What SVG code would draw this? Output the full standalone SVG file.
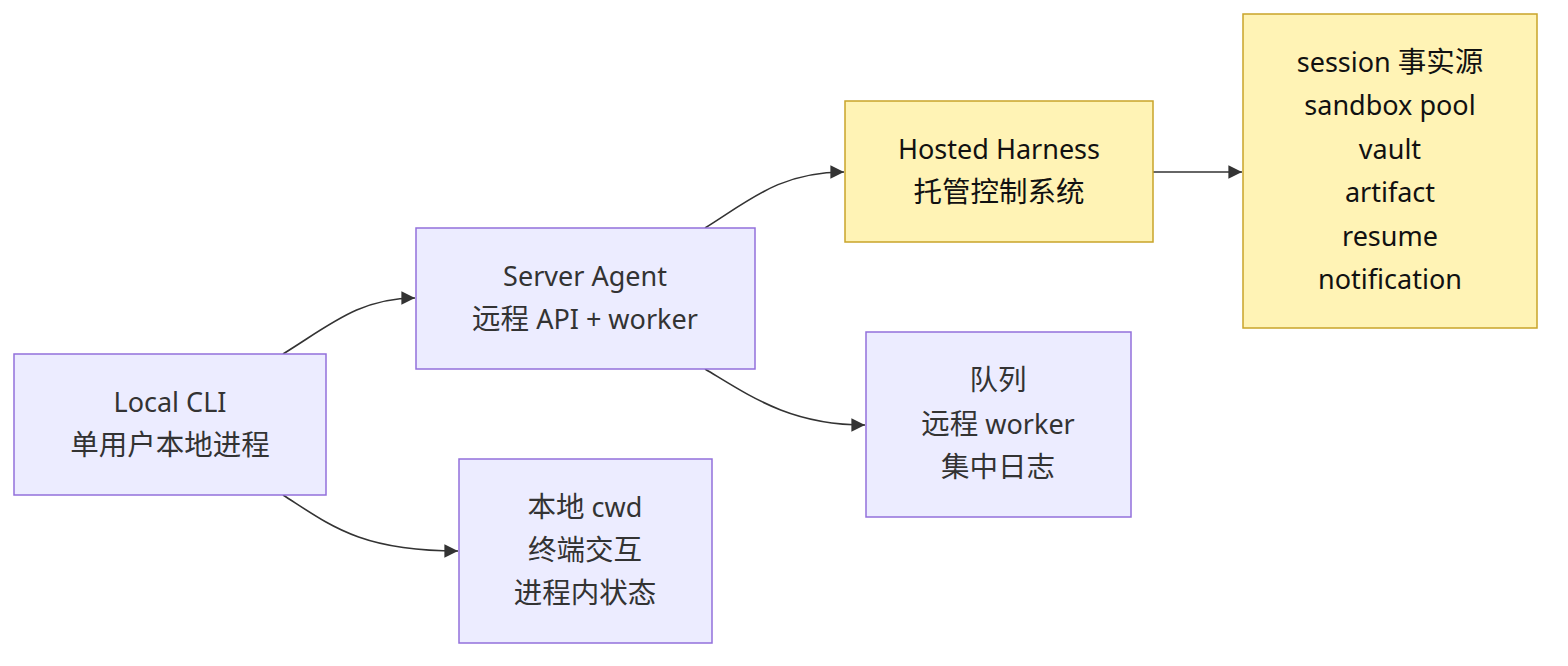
<svg xmlns="http://www.w3.org/2000/svg" width="1568" height="666" viewBox="0 0 1568 666">
<style>
.p rect{fill:#ECECFF;stroke:#9370DB;stroke-width:1.5}
.y rect{fill:#FFF3B5;stroke:#C9A42A;stroke-width:1.5}
text{font-family:"Noto Sans","Noto Sans CJK SC",sans-serif;font-size:27px;text-anchor:middle;dominant-baseline:central}
.c{font-size:28.5px}
.p text{fill:#333}
.y text{fill:#111}
.e path{fill:none;stroke:#333;stroke-width:1.6}
</style>
<defs>
<marker id="ah" viewBox="0 0 10 10" refX="10" refY="5" markerWidth="8.5" markerHeight="8.5" markerUnits="strokeWidth" orient="auto">
<path d="M0,0 L10,5 L0,10 z" fill="#333"/>
</marker>
</defs>
<rect width="1568" height="666" fill="#fff"/>
<g class="e">
<path d="M283,354 C330,325 360,298 415,298" marker-end="url(#ah)"/>
<path d="M283,495 C330,525 360,551 458,551" marker-end="url(#ah)"/>
<path d="M705,228 C750,200 780,172 844,172" marker-end="url(#ah)"/>
<path d="M705,369 C750,396 790,425 865,425" marker-end="url(#ah)"/>
<path d="M1153,172 L1242,172" marker-end="url(#ah)"/>
</g>
<g id="local" class="p">
<rect x="14" y="354" width="312" height="141"/>
<text x="170" y="401">Local CLI</text>
<text x="170" y="444" class="c">单用户本地进程</text>
</g>
<g id="server" class="p">
<rect x="416" y="228" width="339" height="141"/>
<text x="585" y="275">Server Agent</text>
<text x="585" y="318"><tspan class="c">远程</tspan> API + worker</text>
</g>
<g id="cwd" class="p">
<rect x="459" y="459" width="253" height="184"/>
<text x="585" y="506"><tspan class="c">本地</tspan> cwd</text>
<text x="585" y="549" class="c">终端交互</text>
<text x="585" y="592" class="c">进程内状态</text>
</g>
<g id="hosted" class="y">
<rect x="845" y="101" width="308" height="141"/>
<text x="999" y="148">Hosted Harness</text>
<text x="999" y="191" class="c">托管控制系统</text>
</g>
<g id="queue" class="p">
<rect x="866" y="332" width="265" height="185"/>
<text x="998" y="379" class="c">队列</text>
<text x="998" y="423"><tspan class="c">远程</tspan> worker</text>
<text x="998" y="466" class="c">集中日志</text>
</g>
<g id="session" class="y">
<rect x="1243" y="14" width="294" height="314"/>
<text x="1390" y="61">session <tspan class="c">事实源</tspan></text>
<text x="1390" y="104">sandbox pool</text>
<text x="1390" y="148">vault</text>
<text x="1390" y="191">artifact</text>
<text x="1390" y="235">resume</text>
<text x="1390" y="278">notification</text>
</g>
</svg>
